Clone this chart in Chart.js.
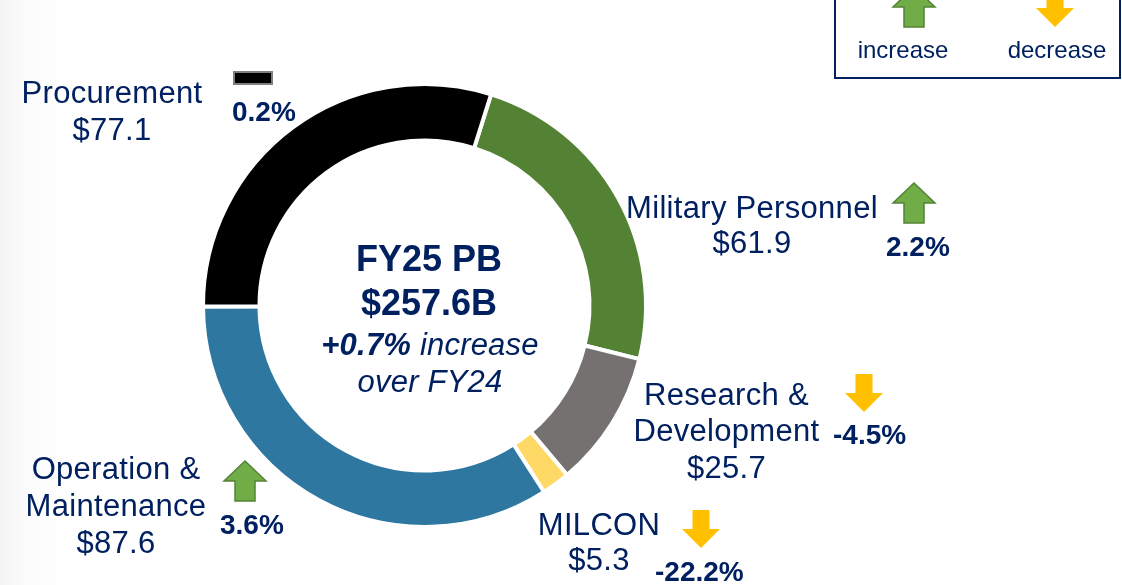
<!DOCTYPE html>
<html>
<head>
<meta charset="utf-8">
<script src="https://cdn.jsdelivr.net/npm/chart.js@4.4.1/dist/chart.umd.min.js"></script>
<style>
  html, body { margin: 0; padding: 0; }
  body {
    width: 1122px; height: 585px; overflow: hidden; position: relative;
    background: linear-gradient(to right, #f4f4f4 0px, #fbfbfb 25px, #ffffff 70px);
    font-family: "Liberation Sans", Arial, sans-serif; color: #002060;
  }
  #wrap { position: absolute; left: 0; top: 0; width: 1122px; height: 585px; }
  .lbl { position: absolute; white-space: nowrap; }
  .legend-box {
    position: absolute; left: 834px; top: -10px; width: 287px; height: 89px;
    box-sizing: border-box; border: 2.5px solid #002060; background: #fff;
  }
  svg { position: absolute; overflow: visible; }
</style>
</head>
<body>
<div class="legend-box"></div>
<div id="wrap"><canvas id="donut" width="1122" height="585"></canvas></div>
<script>
// FY25 PB budget by category ($B) and change over FY24 (%)
const categories = ["Military Personnel", "Research & Development", "MILCON", "Operation & Maintenance", "Procurement"];
const amounts = [61.9, 25.7, 5.3, 87.6, 77.1];
const changes = [2.2, -4.5, -22.2, 3.6, 0.2];
const sliceColors = ["#548235", "#767171", "#FFD966", "#2E77A0", "#000000"];
const total = 257.6;
const totalChange = 0.7;

const config = {
  type: "doughnut",
  data: {
    labels: categories,
    datasets: [{
      data: amounts,
      backgroundColor: sliceColors,
      borderColor: "#ffffff",
      borderWidth: 4,
      hoverOffset: 0,
    }],
  },
  options: {
    responsive: false,
    animation: false,
    rotation: 17.5,
    radius: 221.5,
    cutout: "74.5%",
    layout: { padding: { left: 0, right: 273, top: 26, bottom: 0 } },
    plugins: { legend: { display: false }, tooltip: { enabled: false } },
  },
};
const chart = new Chart(document.getElementById("donut"), config);

// text placed by baseline
function addText(lines, x, baseline, size, lh, opts) {
  opts = opts || {};
  const d = document.createElement("div");
  d.className = "lbl";
  d.style.fontSize = size + "px";
  d.style.lineHeight = lh + "px";
  if (opts.bold) d.style.fontWeight = "bold";
  if (opts.italic) d.style.fontStyle = "italic";
  if (opts.spacing) d.style.letterSpacing = opts.spacing + "px";
  const top = baseline - ((lh - 1.117 * size) / 2 + 0.905 * size);
  d.style.top = top + "px";
  d.style.left = x + "px";
  if (opts.align !== "left") {
    d.style.transform = "translateX(-50%)";
    d.style.textAlign = "center";
  }
  d.innerHTML = lines.join("<br>");
  document.body.appendChild(d);
  return d;
}

function upArrow(x, y) {
  const s = document.createElementNS("http://www.w3.org/2000/svg", "svg");
  s.setAttribute("width", 44); s.setAttribute("height", 42);
  s.style.left = x + "px"; s.style.top = y + "px";
  s.innerHTML = '<polygon points="22,1 43,21 32,21 32,41 12,41 12,21 1,21" fill="#70AD47" stroke="#548235" stroke-width="1.5"/>';
  document.body.appendChild(s);
}
function downArrow(x, y) {
  const s = document.createElementNS("http://www.w3.org/2000/svg", "svg");
  s.setAttribute("width", 38); s.setAttribute("height", 38);
  s.style.left = x + "px"; s.style.top = y + "px";
  s.innerHTML = '<polygon points="10.5,0 27.5,0 27.5,19 38,19 19,38 0,19 10.5,19" fill="#FFC000"/>';
  document.body.appendChild(s);
}

const fmtPct = v => v.toFixed(1) + "%";
const money = v => "$" + v.toFixed(1);

// category labels
const labelSpots = [
  { lines: ["Military Personnel"], x: 752, b: 218, lh: 35 },
  { lines: ["Research &", "Development"], x: 726.5, b: 405.7, lh: 36.5 },
  { lines: ["MILCON"], x: 599, b: 535, lh: 35 },
  { lines: ["Operation &", "Maintenance"], x: 116, b: 479.3, lh: 37 },
  { lines: ["Procurement"], x: 112, b: 103, lh: 37 },
];
const pctSpots = [[886, 257], [833, 445], [655, 581.7], [220, 535], [232, 122]];
const arrowSpots = [[892, 182], [845, 374], [681.7, 510], [223, 460], [233, 71]];

categories.forEach((c, i) => {
  const sp = labelSpots[i];
  addText(sp.lines.concat([money(amounts[i])]), sp.x, sp.b, 31, sp.lh, { spacing: 0.3 });
  addText([fmtPct(changes[i])], pctSpots[i][0], pctSpots[i][1], 28, 32, { bold: true, align: "left" });
  const a = arrowSpots[i];
  if (Math.abs(changes[i]) < 0.5) {
    const r = document.createElement("div");
    r.style.cssText = "position:absolute;left:" + a[0] + "px;top:" + a[1] + "px;width:36px;height:10px;background:#000;border:2px solid #7f7f7f;";
    document.body.appendChild(r);
  } else if (changes[i] > 0) {
    upArrow(a[0], a[1]);
  } else {
    downArrow(a[0], a[1]);
  }
});

// centre text
addText(["FY25 PB"], 429, 271.7, 36, 40, { bold: true });
addText(["$" + total.toFixed(1) + "B"], 429, 315, 36, 40, { bold: true });
addText(["<b>+" + totalChange.toFixed(1) + "%</b> increase"], 430, 356, 31, 36, { italic: true, spacing: 0.2 });
addText(["over FY24"], 430, 393, 31, 36, { italic: true, spacing: 0.2 });

// legend
upArrow(892, -14);
downArrow(1036, -11.3);
addText(["increase"], 903, 58.3, 24, 28);
addText(["decrease"], 1057, 58.3, 24, 28);
</script>
</body>
</html>
